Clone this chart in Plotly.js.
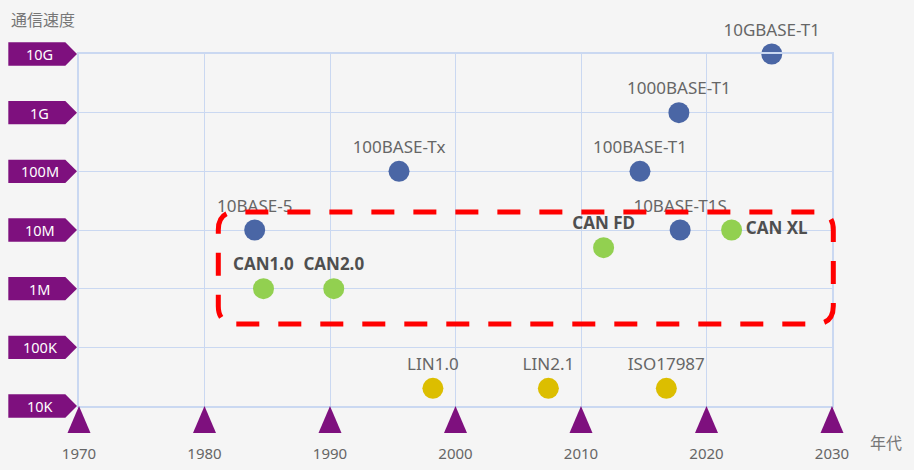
<!DOCTYPE html>
<html>
<head>
<meta charset="utf-8">
<script src="https://cdn.plot.ly/plotly-3.0.1.min.js"></script>
<style>
  html, body { margin: 0; padding: 0; background: #f5f5f5; }
  #chart { width: 914px; height: 470px; }
</style>
</head>
<body>
<div id="chart"></div>
<script>
// ---- data ----
const ethNames  = ['10BASE-5', '100BASE-Tx', '100BASE-T1', '10BASE-T1S', '1000BASE-T1', '10GBASE-T1'];
const ethYears  = [1984.0, 1995.5, 2014.7, 2017.9, 2017.8, 2025.2];
const ethSpeeds = [1e7, 1e8, 1e8, 1e7, 1e9, 1e10];

const canNames  = ['CAN1.0', 'CAN2.0', 'CAN FD', 'CAN XL'];
const canYears  = [1984.7, 1990.3, 2011.8, 2022.0];
const canSpeeds = [1e6, 1e6, 5e6, 1e7];

const linNames  = ['LIN1.0', 'LIN2.1', 'ISO17987'];
const linYears  = [1998.2, 2007.4, 2016.8];
const linSpeeds = [2e4, 2e4, 2e4];

const yTickVals = [1e4, 1e5, 1e6, 1e7, 1e8, 1e9, 1e10];
const yTickText = ['10K', '100K', '1M', '10M', '100M', '1G', '10G'];
const xTickVals = [1970, 1980, 1990, 2000, 2010, 2020, 2030];

// ---- styles ----
const PURPLE = '#7e107e';
const GRID = '#cad8f1';
const FONT = 'Noto Sans, Noto Sans CJK JP, sans-serif';
const X_RANGE = [1970, 2030];
const Y_RANGE = [4, 10];           // log10 range
const xFrac = v => (v - X_RANGE[0]) / (X_RANGE[1] - X_RANGE[0]);
const yFrac = v => (Math.log10(v) - Y_RANGE[0]) / (Y_RANGE[1] - Y_RANGE[0]);

const traces = [
  {
    type: 'scatter', mode: 'markers+text', x: ethYears, y: ethSpeeds, text: ethNames,
    textposition: 'top center', cliponaxis: false, hoverinfo: 'skip',
    marker: { size: 21, color: '#4a66a5' },
    textfont: { family: FONT, size: 17, color: '#666666' }
  },
  {
    type: 'scatter', mode: 'markers+text', x: canYears, y: canSpeeds, text: canNames,
    textposition: ['top center', 'top center', 'top center', 'middle right'],
    cliponaxis: false, hoverinfo: 'skip',
    marker: { size: 21, color: '#92d050' },
    textfont: { family: FONT, size: 17, color: '#4f4f4f', weight: 'bold' }
  },
  {
    type: 'scatter', mode: 'markers+text', x: linYears, y: linSpeeds, text: linNames,
    textposition: 'top center', cliponaxis: false, hoverinfo: 'skip',
    marker: { size: 21, color: '#dcbe00' },
    textfont: { family: FONT, size: 17, color: '#666666' }
  }
];

const shapes = [];
const annotations = [];

// pentagon labels for the speed axis
yTickVals.forEach((v, i) => {
  shapes.push({
    type: 'path', layer: 'above',
    xref: 'paper', xsizemode: 'pixel', xanchor: 0,
    yref: 'paper', ysizemode: 'pixel', yanchor: yFrac(v),
    path: 'M -70.7 -11.7 L -13.7 -11.7 L -2 0 L -13.7 11.7 L -70.7 11.7 Z',
    fillcolor: PURPLE, line: { width: 0 }
  });
  annotations.push({
    xref: 'paper', x: 0, xshift: -39.5, xanchor: 'center',
    yref: 'paper', y: yFrac(v), yanchor: 'middle',
    text: yTickText[i], showarrow: false,
    font: { family: FONT, size: 14.5, color: '#ffffff' }
  });
});

// triangles under each year tick
xTickVals.forEach(yr => {
  shapes.push({
    type: 'path', layer: 'above',
    xref: 'paper', xsizemode: 'pixel', xanchor: xFrac(yr),
    yref: 'paper', ysizemode: 'pixel', yanchor: 0,
    path: 'M -11.5 -27 L 11.5 -27 L 0 0 Z',
    fillcolor: PURPLE, line: { width: 0 }
  });
});

// red dashed rounded box
(function () {
  const W = 615, H = 112, r = 18;
  const p = `M ${r} 0 L ${W - r} 0 Q ${W} 0 ${W} ${r} L ${W} ${H - r} Q ${W} ${H} ${W - r} ${H} ` +
            `L ${r} ${H} Q 0 ${H} 0 ${H - r} L 0 ${r} Q 0 0 ${r} 0 Z`;
  shapes.push({
    type: 'path', layer: 'above',
    xref: 'paper', xsizemode: 'pixel', xanchor: xFrac(1981.1),
    yref: 'paper', ysizemode: 'pixel', yanchor: 0.2332,
    path: p,
    line: { color: '#ff0000', width: 5, dash: '23px,19px' },
    fillcolor: 'rgba(0,0,0,0)'
  });
})();

annotations.push({
  xref: 'paper', x: 1, xshift: 54, xanchor: 'center',
  yref: 'paper', y: 0, yshift: -36, yanchor: 'middle',
  text: '年代', showarrow: false,
  font: { family: 'Noto Sans CJK JP', size: 16, color: '#777777' }
});

const layout = {
  width: 914, height: 470,
  paper_bgcolor: '#f5f5f5', plot_bgcolor: '#f5f5f5',
  margin: { l: 79, r: 82, t: 54, b: 64, pad: 0 },
  showlegend: false,
  title: {
    text: '通信速度', xref: 'container', yref: 'container',
    x: 11 / 914, xanchor: 'left', y: 1 - 20 / 470, yanchor: 'middle',
    font: { family: 'Noto Sans CJK JP', size: 16, color: '#777777' }
  },
  xaxis: {
    type: 'linear', range: X_RANGE, tickvals: xTickVals,
    ticks: '', ticklabelstandoff: 33,
    tickfont: { family: FONT, size: 15, color: '#666666' },
    showgrid: true, gridcolor: GRID, gridwidth: 1, zeroline: false,
    showline: true, mirror: true, linecolor: GRID, linewidth: 2
  },
  yaxis: {
    type: 'log', range: Y_RANGE, tickvals: yTickVals, ticktext: yTickText,
    showticklabels: false, ticks: '',
    showgrid: true, gridcolor: GRID, gridwidth: 1, zeroline: false,
    showline: true, mirror: true, linecolor: GRID, linewidth: 2
  },
  shapes: shapes,
  annotations: annotations
};

Plotly.newPlot('chart', traces, layout, { displayModeBar: false, staticPlot: true });
</script>
</body>
</html>
